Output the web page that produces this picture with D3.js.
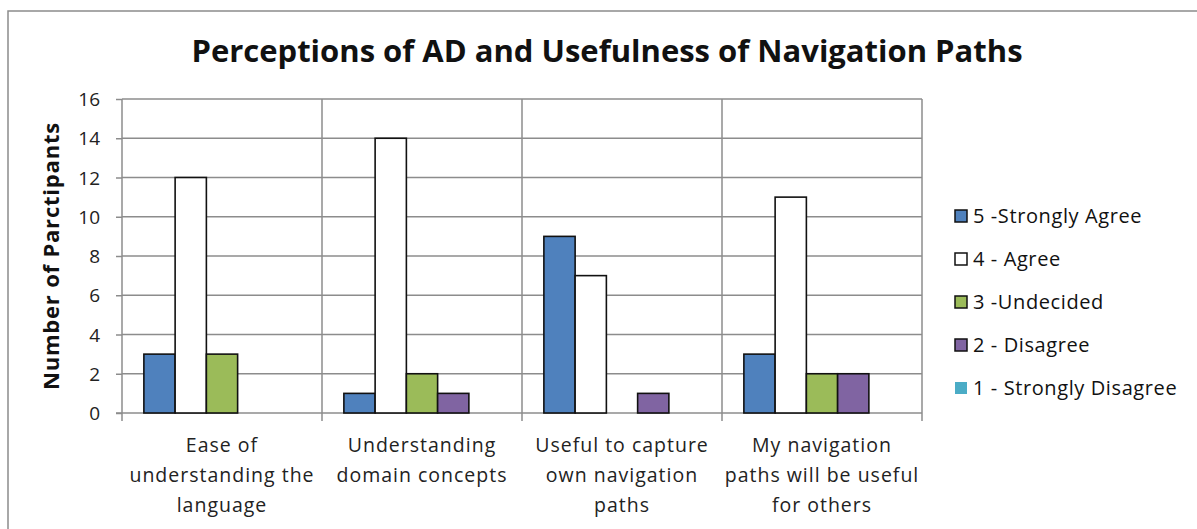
<!DOCTYPE html>
<html>
<head>
<meta charset="utf-8">
<script src="https://cdn.jsdelivr.net/npm/d3@7"></script>
<style>
  body{margin:0;background:#fff;}
  svg text{font-family:"Open Sans",Lato,sans-serif;}
  .grid line{stroke:#8c8c8c;stroke-width:1.5px;}
  .axis path,.axis line{stroke:#8c8c8c;stroke-width:1.5px;}
  .axis text{fill:#222;font-size:19px;font-family:"Open Sans",sans-serif;}
</style>
</head>
<body>
<script>
// data
var categories = [
  ['Ease of','understanding the','language'],
  ['Understanding','domain concepts'],
  ['Useful to capture','own navigation','paths'],
  ['My navigation','paths will be useful','for others']
];
var seriesNames = ['5 -Strongly Agree','4 - Agree','3 -Undecided','2 - Disagree','1 - Strongly Disagree'];
var seriesColors = ['#4f81bd','#ffffff','#9bbb59','#8064a2','#4bacc6'];
var stronglyAgree = [3,1,9,3];
var agree = [12,14,7,11];
var undecided = [3,2,0,2];
var disagree = [0,1,1,2];
var stronglyDisagree = [0,0,0,0];
var yTicks = [0,2,4,6,8,10,12,14,16];

var values = [stronglyAgree,agree,undecided,disagree,stronglyDisagree];

var W = 1197, H = 529;
var plot = {left:122,right:922,top:99,bottom:413};

var svg = d3.select('body').append('svg').attr('width',W).attr('height',H);

// outer chart frame
svg.append('rect').attr('x',8).attr('y',11)
  .attr('width',1200).attr('height',540)
  .attr('fill','none').style('stroke','#8c8c8c').style('stroke-width','1.5px');

// title
svg.append('text').attr('x',607).attr('y',62)
  .attr('text-anchor','middle')
  .style('font-size','31px').style('font-weight','bold').attr('fill','#111')
  .text('Perceptions of AD and Usefulness of Navigation Paths');

// scales
var xScale = d3.scaleBand().domain(d3.range(categories.length))
  .range([plot.left,plot.right]).padding(0);
var xInner = d3.scaleBand().domain(d3.range(seriesNames.length))
  .range([0,xScale.bandwidth()]).paddingInner(0).paddingOuter(0.7);
var yScale = d3.scaleLinear().domain([0,16]).range([plot.bottom,plot.top]);

// horizontal gridlines
svg.append('g').attr('class','grid').selectAll('line')
  .data(yTicks.filter(function(d){return d>0;})).enter()
  .append('line')
  .attr('x1',plot.left).attr('x2',plot.right)
  .attr('y1',function(d){return yScale(d);})
  .attr('y2',function(d){return yScale(d);});

// vertical gridlines at category boundaries
svg.append('g').attr('class','grid').selectAll('line')
  .data(d3.range(1,categories.length+1)).enter()
  .append('line')
  .attr('x1',function(d){return plot.left+d*xScale.step();})
  .attr('x2',function(d){return plot.left+d*xScale.step();})
  .attr('y1',plot.top).attr('y2',plot.bottom+8);

// y axis
var yAxis = d3.axisLeft(yScale).tickValues(yTicks).tickSize(6).tickPadding(16).tickFormat(d3.format('d'));
svg.append('g').attr('class','axis').attr('transform','translate('+plot.left+',0)')
  .call(yAxis).call(function(g){g.select('.domain').attr('d','M0,'+plot.top+'V'+(plot.bottom+8));})
  .selectAll('text').attr('dy','0.35em');

// x axis line
svg.append('line').attr('x1',plot.left-6).attr('x2',plot.right)
  .attr('y1',plot.bottom).attr('y2',plot.bottom)
  .style('stroke','#8c8c8c').style('stroke-width','1.5px');

// y axis title
svg.append('text')
  .attr('transform','translate(59,'+((plot.top+plot.bottom)/2)+') rotate(-90)')
  .attr('text-anchor','middle')
  .style('font-size','22px').style('font-weight','bold').style('letter-spacing','0.8px')
  .attr('fill','#111')
  .text('Number of Parctipants');

// bars
var groups = svg.selectAll('g.cat').data(categories).enter()
  .append('g').attr('class','cat')
  .attr('transform',function(d,i){return 'translate('+xScale(i)+',0)';});
groups.each(function(d,ci){
  var g = d3.select(this);
  var rows = values.map(function(v,si){return {s:si,v:v[ci]};})
    .filter(function(r){return r.v>0;});
  g.selectAll('rect').data(rows).enter().append('rect')
    .attr('x',function(r){return xInner(r.s);})
    .attr('width',xInner.bandwidth())
    .attr('y',function(r){return yScale(r.v);})
    .attr('height',function(r){return yScale(0)-yScale(r.v);})
    .attr('fill',function(r){return seriesColors[r.s];})
    .style('stroke','#111').style('stroke-width','1.6px');
});

// category labels
groups.append('text').attr('text-anchor','middle')
  .attr('x',xScale.bandwidth()/2)
  .style('font-size','19.5px').style('letter-spacing','1px').attr('fill','#222')
  .selectAll('tspan').data(function(d){return d;}).enter()
  .append('tspan').attr('x',xScale.bandwidth()/2)
  .attr('y',function(d,i){return 452+i*30;})
  .text(function(d){return d;});

// legend
var legend = svg.append('g').attr('transform','translate(955,210)');
var li = legend.selectAll('g').data(seriesNames).enter().append('g')
  .attr('transform',function(d,i){return 'translate(0,'+(i*43)+')';});
li.append('rect').attr('width',12).attr('height',12).attr('y',0)
  .attr('fill',function(d,i){return seriesColors[i];})
  .style('stroke',function(d,i){return i==4?'none':'#111';})
  .style('stroke-width','1.5px');
li.append('text').attr('x',18).attr('y',13)
  .style('font-size','20px').style('letter-spacing','0.6px').attr('fill','#111')
  .text(function(d){return d;});
</script>
</body>
</html>
